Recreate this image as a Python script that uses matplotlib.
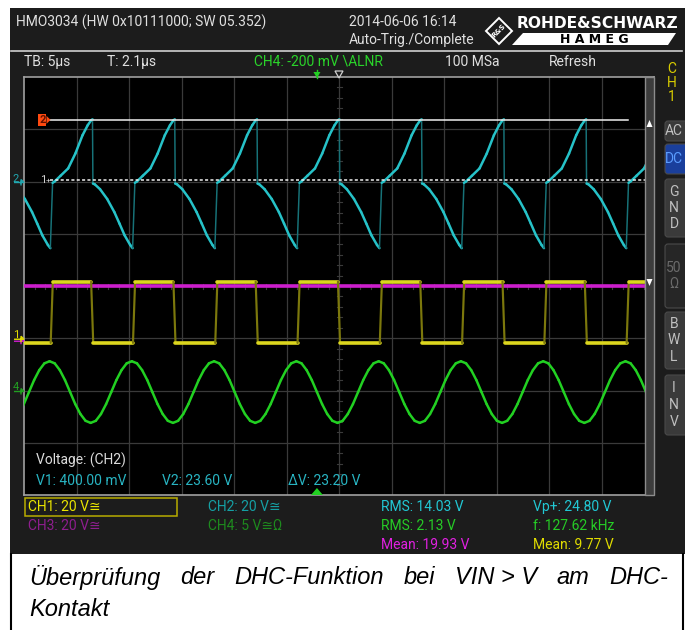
import numpy as np
import matplotlib.pyplot as plt
from matplotlib.patches import Rectangle, Polygon, FancyBboxPatch
from matplotlib.collections import LineCollection

plt.rcParams['font.family'] = ['Roboto', 'DejaVu Sans']

# scope settings
tb_us = 5.0                 # time / div
t_trig = 2.1                # trigger position
freq_khz = 127.62
period_us = 1e3 / freq_khz
n_div_x = 12
n_div_y = 8

# volts/div and ground position (div) per channel
ch1_scale, ch1_pos = 20.0, -1.0
ch2_scale, ch2_pos = 20.0, 2.0
ch3_scale, ch3_pos = 20.0, -1.0
ch4_scale, ch4_pos = 5.0, -2.0

# one period of each trace: time from period start (us), volts
ch1_t = [0.0, 0.2, 3.85, 4.05]
ch1_v = [-1.8, 21.7, 21.7, -1.8]
ch1_start = -1.85

ch2_t = [0.00, 0.19, 0.76, 1.48, 2.17, 2.85, 3.34, 3.65, 3.80,
         3.84, 4.01, 4.52, 5.20, 5.88, 6.37, 6.86, 7.39, 7.62]
ch2_v = [-0.5, 0.0, 2.2, 5.0, 10.7, 17.7, 21.5, 23.3, 23.8,
         -0.8, -1.05, -2.95, -6.7, -11.7, -16.1, -20.6, -24.3, -25.5]
ch2_start = -1.67

ch3_level = 19.9

ch4_v = [2.8, 2.6, 1.95, 1.0, -0.15, -1.3, -2.25, -2.9,
         -3.1, -2.9, -2.25, -1.3, -0.15, 1.0, 1.95, 2.6]
ch4_start = -1.96

# cursors on CH2
cur_v1 = 0.40
cur_v2 = 23.60

# texts
header_left = "HMO3034 (HW 0x10111000; SW 05.352)"
header_date = "2014-06-06 16:14"
header_trig = "Auto-Trig./Complete"
top_row = [("TB: 5µs", 24, '#e0e0e0'), ("T: 2.1µs", 107, '#e0e0e0'),
           ("CH4: -200 mV \\ALNR", 254, '#2ad42a'), ("100 MSa", 445, '#e0e0e0'),
           ("Refresh", 549, '#e0e0e0')]
bottom_rows = [
    ("CH1: 20 V≅", 28, 507, '#e8e400'), ("CH2: 20 V≅", 208, 507, '#15a0a4'),
    ("RMS: 14.03 V", 381, 507, '#22c8d4'), ("Vp+: 24.80 V", 533, 507, '#22c8d4'),
    ("CH3: 20 V≅", 28, 526, '#8e1e8e'), ("CH4: 5 V≅Ω", 208, 526, '#1e8a1e'),
    ("RMS: 2.13 V", 381, 526, '#26cc26'), ("f: 127.62 kHz", 533, 526, '#26cc26'),
    ("Mean: 19.93 V", 381, 545, '#e020e0'), ("Mean: 9.77 V", 533, 545, '#e0dc00'),
]
caption_words = ["Überprüfung", "der", "DHC-Funktion", "bei", "VIN > V", "am", "DHC-"]
caption_line2 = "Kontakt"
buttons = [("AC", 120, 142, '#3a3a3a', ['AC'], '#c0c0c0'),
           ("DC", 143, 175, '#1a3f9c', ['DC'], '#5a9cff'),
           ("GND", 178, 238, '#3a3a3a', ['G', 'N', 'D'], '#c0c0c0'),
           ("50", 243, 309, '#262626', ['50', 'Ω'], '#6a6a6a'),
           ("BWL", 311, 370, '#3a3a3a', ['B', 'W', 'L'], '#c0c0c0'),
           ("INV", 374, 436, '#3a3a3a', ['I', 'N', 'V'], '#c0c0c0')]

W, H = 685, 630
fig = plt.figure(figsize=(W / 100, H / 100), dpi=100)
fig.patch.set_facecolor('white')

# background / chrome in pixel coords
bg = fig.add_axes([0, 0, 1, 1], zorder=0)
bg.set_xlim(0, W)
bg.set_ylim(H, 0)
bg.axis('off')
bg.add_patch(Rectangle((10, 8), W - 10, 546, facecolor='#1c1c1c', edgecolor='none'))
bg.plot([11, 682], [51, 51], color='#d0d0d0', lw=1.2)

# caption box
bg.plot([11, 11], [554, 630], color='black', lw=1.5)
bg.plot([683, 683], [554, 630], color='black', lw=1.5)

# grid axes
gx0, gx1, gy0, gy1 = 24, 654, 77, 495
ax = fig.add_axes([gx0 / W, 1 - gy1 / H, (gx1 - gx0) / W, (gy1 - gy0) / H], zorder=2)
xmin = t_trig - n_div_x / 2 * tb_us
xmax = t_trig + n_div_x / 2 * tb_us
ax.set_xlim(xmin, xmax)
ax.set_ylim(-n_div_y / 2, n_div_y / 2)
ax.set_facecolor('black')
ax.set_xticks([])
ax.set_yticks([])
for s in ax.spines.values():
    s.set_color('#a0a0a0')
    s.set_linewidth(1.2)

for i in range(1, n_div_x):
    ax.axvline(xmin + i * tb_us, color='#3a3a3a', lw=0.9, zorder=1)
for j in range(1, n_div_y):
    ax.axhline(-n_div_y / 2 + j, color='#3a3a3a', lw=0.9, zorder=1)

# minor ticks on centre lines
px_t = (xmax - xmin) / (gx1 - gx0)
px_d = n_div_y / (gy1 - gy0)
for yy in np.arange(-4, 4.01, 0.2):
    ax.plot([t_trig - 2.5 * px_t, t_trig + 2.5 * px_t], [yy, yy], color='#3a3a3a', lw=0.8, zorder=1)
for xx in np.arange(xmin, xmax + 0.01, 1.0):
    ax.plot([xx, xx], [-2.5 * px_d, 2.5 * px_d], color='#3a3a3a', lw=0.8, zorder=1)


def tile(t_one, v_one, start):
    ts, vs = [], []
    for k in range(-5, 7):
        for t, v in zip(t_one, v_one):
            ts.append(start + k * period_us + t)
            vs.append(v)
    return np.array(ts), np.array(vs)


def trace(t, v, scale, pos, color, dim, lw, z):
    y = pos + v / scale
    pts = np.column_stack([t, y])
    segs = np.stack([pts[:-1], pts[1:]], axis=1)
    dx = np.abs(np.diff(t)) / px_t
    dy = np.abs(np.diff(y)) / px_d
    steep = dy > 8 * np.maximum(dx, 1e-6)
    cols = [dim if s else color for s in steep]
    widths = [lw * 0.6 if s else lw for s in steep]
    ax.add_collection(LineCollection(segs, colors=cols, linewidths=widths,
                                     zorder=z, capstyle='round', joinstyle='round'))


# CH3 (constant)
ax.plot([xmin, xmax], [ch3_pos + ch3_level / ch3_scale] * 2, color='#cc1ecc', lw=2.6, zorder=3)
# CH1 square wave
t1, v1 = tile(ch1_t, ch1_v, ch1_start)
trace(t1, v1, ch1_scale, ch1_pos, '#dcd61e', '#7c780c', 2.6, 4)
# CH2
t2, v2 = tile(ch2_t, ch2_v, ch2_start)
trace(t2, v2, ch2_scale, ch2_pos, '#26c2c8', '#177278', 1.8, 5)
# CH4 sine
ch4_t = [i * period_us / len(ch4_v) for i in range(len(ch4_v))]
t4, v4 = tile(ch4_t, ch4_v, ch4_start)
trace(t4, v4, ch4_scale, ch4_pos, '#22d022', '#148214', 1.8, 6)

# cursors
c_x0 = xmin + (50 - gx0) * px_t
c_x1 = xmin + (628 - gx0) * px_t
ax.plot([c_x0, c_x1], [ch2_pos + cur_v2 / ch2_scale] * 2, color='#f0f0f0', lw=1.1, zorder=7)
ax.plot([c_x0, xmax], [ch2_pos + cur_v1 / ch2_scale] * 2, color='#f0f0f0', lw=1.1,
        ls=(0, (2, 1.5)), zorder=7)

# overlay in pixel coords
ov = fig.add_axes([0, 0, 1, 1], zorder=5)
ov.set_xlim(0, W)
ov.set_ylim(H, 0)
ov.axis('off')
ov.patch.set_alpha(0)

fs = 10
# header
ov.text(16, 22, header_left, color='#e0e0e0', fontsize=fs, va='center')
ov.text(349, 22, header_date, color='#e0e0e0', fontsize=fs, va='center')
ov.text(349, 40, header_trig, color='#e0e0e0', fontsize=fs, va='center')
ov.add_patch(Polygon([(499, 18), (512, 31), (499, 44), (486, 31)], closed=True,
                     facecolor='none', edgecolor='white', lw=1.4))
ov.text(499, 31, "R&S", color='white', fontsize=5, fontweight='bold', rotation=45,
        ha='center', va='center', family='DejaVu Sans')
ov.text(678, 23, "ROHDE&SCHWARZ", color='white', fontsize=11.2, fontweight='bold',
        ha='right', va='center', family='DejaVu Sans')
ov.add_patch(Polygon([(523, 33), (676, 33), (668, 45), (512, 45)], closed=True,
                     facecolor='white', edgecolor='none'))
ov.text(594, 39.5, "H A M E G", color='black', fontsize=9, fontweight='heavy',
        ha='center', va='center', family='DejaVu Sans')

for txt, x, c in top_row:
    ov.text(x, 62, txt, color=c, fontsize=fs, va='center')

# CH1 label on right
for k, ch in enumerate("CH1"):
    ov.text(672, 69 + 14 * k, ch, color='#d8cc00', fontsize=fs, ha='center', va='center')

# side buttons
for name, y0, y1, fc, lines, tc in buttons:
    ov.add_patch(FancyBboxPatch((665, y0 + 1), 30, y1 - y0 - 2,
                                boxstyle='round,pad=0,rounding_size=3',
                                facecolor=fc, edgecolor='#4a4a4a', lw=0.8))
    n = len(lines)
    for k, s in enumerate(lines):
        yc = (y0 + y1) / 2 + (k - (n - 1) / 2) * 16.5
        ov.text(674, yc, s, color=tc, fontsize=fs, ha='center', va='center')

# scroll bar on right of grid
ov.add_patch(Rectangle((645, 77), 9, 418, facecolor='#3c3c3c', edgecolor='#8c8c8c', lw=1))
ov.add_patch(Polygon([(646.5, 127), (652.5, 127), (649.5, 120)], facecolor='white'))
ov.add_patch(Polygon([(646.5, 279), (652.5, 279), (649.5, 286)], facecolor='white'))

# trigger markers
xt = gx0 + (0 - xmin) / px_t
xc = gx0 + (t_trig - xmin) / px_t
ov.add_patch(Polygon([(xt - 3.5, 72), (xt + 3.5, 72), (xt, 78)], facecolor='#22d022'))
ov.plot([xt, xt], [70, 78], color='#22d022', lw=1)
ov.add_patch(Polygon([(xc - 4, 71), (xc + 4, 71), (xc, 78)], facecolor='none',
                     edgecolor='#d0d0d0', lw=0.9))
ov.add_patch(Polygon([(xt - 6, 495), (xt + 6, 495), (xt, 488)], facecolor='#22d022'))


def gnd_marker(y, label, color, dx=0):
    ov.text(16 + dx, y - 3, label, color=color, fontsize=8, ha='center', va='center')
    ov.add_patch(Polygon([(14 + dx, y + 1), (24 + dx, y + 1), (21 + dx, y - 2), (21 + dx, y + 4)],
                         closed=False, facecolor='none', edgecolor=color, lw=1))


gnd_marker(gy0 + (4 - ch2_pos) / px_d, "2", '#22a8b0')
gnd_marker(gy0 + (4 - ch4_pos) / px_d, "4", '#22a022')
gnd_marker(gy0 + (4 - ch3_pos) / px_d + 2, "", '#cc1ecc')
gnd_marker(gy0 + (4 - ch1_pos) / px_d, "1", '#e0dc00')

# cursor labels
y_c1 = gy0 + (4 - ch2_pos - cur_v1 / ch2_scale) / px_d
y_c2 = gy0 + (4 - ch2_pos - cur_v2 / ch2_scale) / px_d
ov.text(43, y_c1, "1", color='#d0d0d0', fontsize=8, ha='center', va='center')
ov.text(48.5, y_c1, "+", color='#d0d0d0', fontsize=6, ha='center', va='center')
ov.add_patch(Rectangle((38.5, y_c2 - 6), 8, 12, facecolor='#ff4a10', edgecolor='none'))
ov.add_patch(Polygon([(46.5, y_c2 - 4), (50.5, y_c2), (46.5, y_c2 + 4)], facecolor='#ff4a10'))
ov.text(42.5, y_c2 + 0.5, "2", color='#601000', fontsize=8, fontweight='bold',
        ha='center', va='center')

# measurement text in grid
ov.text(36, 460, "Voltage: (CH2)", color='#dcdcdc', fontsize=fs, va='center')
ov.text(36, 481, "V1: 400.00 mV", color='#28b4c2', fontsize=fs, va='center')
ov.text(162, 481, "V2: 23.60 V", color='#28b4c2', fontsize=fs, va='center')
ov.text(288, 481, "ΔV: 23.20 V", color='#28b4c2', fontsize=fs, va='center')

# bottom info
ov.add_patch(Rectangle((25, 498), 152, 18, facecolor='none', edgecolor='#b8ac00', lw=1.1))
for txt, x, y, c in bottom_rows:
    ov.text(x, y, txt, color=c, fontsize=fs, va='center')

# caption (justified)
cap_fs = 17
cap_left, cap_right = 29, 668
renderer = fig.canvas.get_renderer()
tmp = [ov.text(0, 0, w, fontsize=cap_fs, style='italic', family='Liberation Sans') for w in caption_words]
widths = [t.get_window_extent(renderer).width for t in tmp]
for t in tmp:
    t.remove()
gap = (cap_right - cap_left - sum(widths)) / (len(caption_words) - 1)
x = cap_left
for w, wd in zip(caption_words, widths):
    ov.text(x, 578, w, fontsize=cap_fs, style='italic', family='Liberation Sans',
            color='black', va='center')
    x += wd + gap
ov.text(cap_left, 609, caption_line2, fontsize=cap_fs, style='italic',
        family='Liberation Sans', color='black', va='center')

fig.savefig('out.png', dpi=100, facecolor='white')
